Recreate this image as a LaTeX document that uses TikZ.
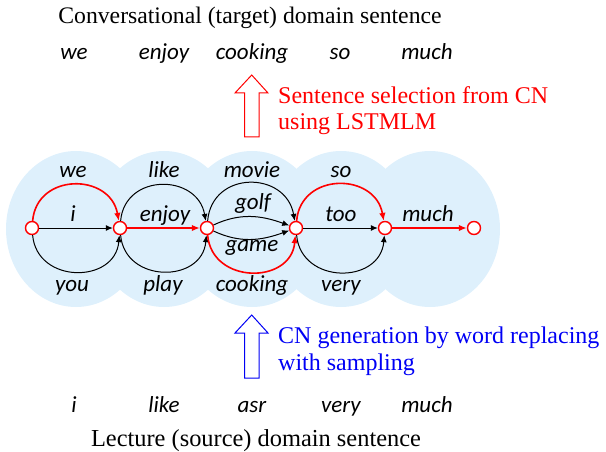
\documentclass[tikz,border=0pt]{standalone}
\usepackage{fontspec}
\setmainfont{Liberation Serif}
\newfontfamily\wordfont{Carlito}
\usetikzlibrary{arrows.meta}
\definecolor{bgblue}{RGB}{222,240,252}
\definecolor{lblue}{RGB}{0,0,245}
\begin{document}
\begin{tikzpicture}[x=1pt,y=1pt,
  word/.style={font=\wordfont\itshape\fontsize{23}{26}\selectfont, anchor=base, inner sep=0pt},
  ttl/.style={font=\fontsize{23.7}{28}\selectfont, anchor=base, inner sep=0pt},
  lbl/.style={font=\fontsize{24}{28}\selectfont, anchor=base west, inner sep=0pt},
  state/.style={circle, draw=red, fill=white, line width=1.4pt, minimum size=13pt, inner sep=0pt},
  blkarr/.style={-{Latex[length=7pt,width=6pt]}, line width=1pt, black},
  redarr/.style={-{Latex[length=8pt,width=6.5pt]}, line width=1.6pt, red},
  bigarrow/.style={line width=1pt, fill=white},
  blob/.style={fill=bgblue, draw=none}
]
\useasboundingbox (0,0) rectangle (606,-452);

% background blobs
\foreach \cx in {76,164,252,341,430}
  \fill[blob] (\cx,-229) ellipse [x radius=70, y radius=78];

% titles and sentences
\node[ttl] (ttop) at (250,-24) {Conversational (target) domain sentence};
\node[ttl, font=\fontsize{24.4}{28}\selectfont] (tbot) at (256,-446) {Lecture (source) domain sentence};

\node[word] (s1) at (74,-60) {we};
\node[word] (s2) at (164,-60) {enjoy};
\node[word] (s3) at (252,-60) {cooking};
\node[word] (s4) at (340,-60) {so};
\node[word] (s5) at (427,-60) {much};

\node[word] (b1) at (74,-412) {i};
\node[word] (b2) at (164,-412) {like};
\node[word] (b3) at (252,-412) {asr};
\node[word] (b4) at (341,-412) {very};
\node[word] (b5) at (427,-412) {much};

% block arrows
\draw[bigarrow, draw=red] (244.5,-137) -- (244.5,-93) -- (235,-93) -- (251.7,-75) -- (268,-93) -- (259,-93) -- (259,-137) -- cycle;
\draw[bigarrow, draw=lblue] (244.5,-378) -- (244.5,-333) -- (235,-333) -- (251.7,-315) -- (268,-333) -- (259,-333) -- (259,-378) -- cycle;

\node[lbl, red] (l1) at (278,-103) {Sentence selection from CN};
\node[lbl, red] (l2) at (278,-130) {using LSTMLM};
\node[lbl, lblue] (l3) at (278,-343) {CN generation by word replacing};
\node[lbl, lblue] (l4) at (278,-370) {with sampling};

% states
\node[state] (n0) at (32,-228) {};
\node[state] (n1) at (120,-228) {};
\node[state] (n2) at (207,-228) {};
\node[state] (n3) at (296,-228) {};
\node[state] (n4) at (385,-228) {};
\node[state] (n5) at (474,-228) {};

% CN words
\node[word] (w1) at (73,-178) {we};
\node[word] (w2) at (164,-178) {like};
\node[word] (w3) at (252,-178) {movie};
\node[word] (w4) at (341,-178) {so};
\node[word] (w5) at (73,-221) {i};
\node[word] (w6) at (165,-221) {enjoy};
\node[word] (w7) at (253,-209) {golf};
\node[word] (w8) at (341,-221) {too};
\node[word] (w9) at (428,-221) {much};
\node[word] (w10) at (252,-251) {game};
\node[word] (w11) at (72,-291) {you};
\node[word] (w12) at (163,-291) {play};
\node[word] (w13) at (252,-291) {cooking};
\node[word] (w14) at (341,-291) {very};

% edges
\draw[redarr] (n0) to[out=85,in=100,looseness=1.45] (n1);
\draw[blkarr] (n0) -- (n1);
\draw[blkarr] (n0) to[out=-85,in=-95,looseness=1.45] (n1);

\draw[blkarr] (n1) to[out=85,in=100,looseness=1.45] (n2);
\draw[redarr] (n1) -- (n2);
\draw[blkarr] (n1) to[out=-85,in=-95,looseness=1.45] (n2);

\draw[blkarr] (n2) to[out=85,in=100,looseness=1.5] (n3);
\draw[blkarr] (n2) to[out=25,in=160] (n3);
\draw[blkarr] (n2) to[out=-25,in=-160] (n3);
\draw[redarr] (n2) to[out=-85,in=-95,looseness=1.45] (n3);

\draw[redarr] (n3) to[out=85,in=100,looseness=1.45] (n4);
\draw[blkarr] (n3) -- (n4);
\draw[blkarr] (n3) to[out=-85,in=-95,looseness=1.45] (n4);

\draw[redarr] (n4) -- (n5);
\end{tikzpicture}
\end{document}
